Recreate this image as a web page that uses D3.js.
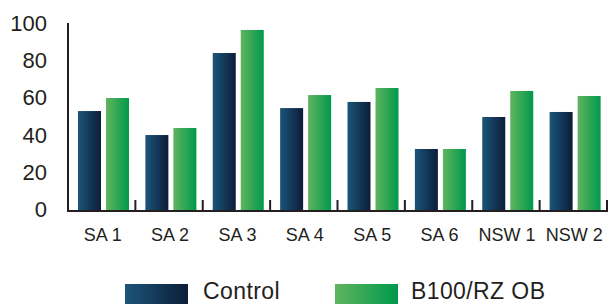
<!DOCTYPE html>
<html>
<head>
<meta charset="utf-8">
<script src="https://cdn.jsdelivr.net/npm/d3@7"></script>
<style>
  html, body { margin: 0; padding: 0; background: #fff; }
  svg { display: block; font-family: "Liberation Sans", Arial, sans-serif; }
</style>
</head>
<body>
<svg id="chart" width="613" height="304"></svg>
<script>
const categories = ["SA 1", "SA 2", "SA 3", "SA 4", "SA 5", "SA 6", "NSW 1", "NSW 2"];
const seriesNames = ["Control", "B100/RZ OB"];
const controlValues = [53.2, 40.3, 84.4, 54.8, 58.1, 32.8, 50, 52.7];
const treatedValues = [60.2, 44.1, 96.8, 61.8, 65.6, 32.8, 64, 61.3];
const yTicks = [0, 20, 40, 60, 80, 100];

const svg = d3.select("#chart");
const ink = "#231f20";

const defs = svg.append("defs");
const gradients = [
  { id: "gradControl", from: "#1b557a", to: "#0c1d38" },
  { id: "gradTreated", from: "#60b45f", to: "#00994b" },
];
for (const g of gradients) {
  const lg = defs.append("linearGradient").attr("id", g.id)
    .attr("x1", "0%").attr("x2", "100%").attr("y1", "0%").attr("y2", "0%");
  lg.append("stop").attr("offset", "0%").attr("stop-color", g.from);
  lg.append("stop").attr("offset", "100%").attr("stop-color", g.to);
}
const fillBySeries = { "Control": "url(#gradControl)", "B100/RZ OB": "url(#gradTreated)" };

const x = d3.scaleBand().domain(categories).range([68, 607]);
const x1 = d3.scaleBand().domain(seriesNames).range([10, 61]).paddingInner(0.1786);
const y = d3.scaleLinear().domain([0, 100]).range([210, 24]);

const rows = categories.map((c, i) => ({
  cat: c,
  values: [
    { series: seriesNames[0], value: controlValues[i] },
    { series: seriesNames[1], value: treatedValues[i] },
  ],
}));

// bars
const groups = svg.append("g").selectAll("g")
  .data(rows)
  .join("g")
  .attr("transform", (d) => `translate(${x(d.cat)},0)`);

groups.selectAll("rect")
  .data((d) => d.values)
  .join("rect")
  .attr("x", (d) => x1(d.series))
  .attr("width", x1.bandwidth())
  .attr("y", (d) => y(d.value))
  .attr("height", (d) => y(0) - y(d.value))
  .attr("fill", (d) => fillBySeries[d.series]);

// y axis line
svg.append("line")
  .attr("x1", 68).attr("x2", 68)
  .attr("y1", 23).attr("y2", 212)
  .attr("stroke", ink).attr("stroke-width", 2);

// x axis baseline
svg.append("line")
  .attr("x1", 67).attr("x2", 608)
  .attr("y1", 211).attr("y2", 211)
  .attr("stroke", ink).attr("stroke-width", 2);

// x ticks at band boundaries (pointing up)
const boundaries = categories.slice(1).map((c) => x(c)).concat([x.range()[1]]);
svg.append("g").selectAll("line")
  .data(boundaries)
  .join("line")
  .attr("x1", (d) => d).attr("x2", (d) => d)
  .attr("y1", 200).attr("y2", 211)
  .attr("stroke", ink).attr("stroke-width", 2);

// y tick labels
svg.append("g").selectAll("text")
  .data(yTicks)
  .join("text")
  .attr("x", 47)
  .attr("y", (d) => y(d) - 1)
  .attr("dy", "0.36em")
  .attr("text-anchor", "end")
  .attr("font-size", 22)
  .attr("fill", ink)
  .text((d) => d);

// x labels
svg.append("g").selectAll("text")
  .data(categories)
  .join("text")
  .attr("x", (d) => x(d) + x.bandwidth() / 2 + 1)
  .attr("y", 241)
  .attr("text-anchor", "middle")
  .attr("font-size", 18)
  .attr("fill", ink)
  .text((d) => d);

// legend
const legendItems = [
  { name: seriesNames[0], sx: 125, tx: 203 },
  { name: seriesNames[1], sx: 335, tx: 411 },
];
const legend = svg.append("g").selectAll("g")
  .data(legendItems)
  .join("g");
legend.append("rect")
  .attr("x", (d) => d.sx).attr("y", 284)
  .attr("width", 63).attr("height", 22)
  .attr("fill", (d) => fillBySeries[d.name]);
legend.append("text")
  .attr("x", (d) => d.tx).attr("y", 299)
  .attr("font-size", 23)
  .attr("letter-spacing", 0.4)
  .attr("fill", ink)
  .text((d) => d.name);
</script>
</body>
</html>
